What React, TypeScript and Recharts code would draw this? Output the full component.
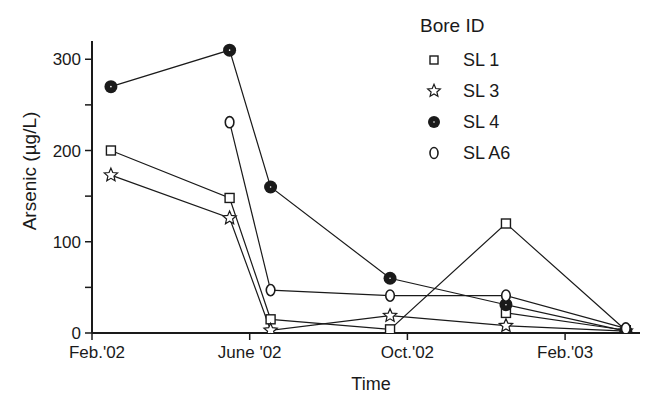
import React from 'react';
import { LineChart, Line, XAxis, YAxis } from 'recharts';

// months since 1 Feb 2002
const sampleTimes = [0.48, 3.49, 4.53, 7.56, 10.5, 13.54];
const sl1 = [200, 148, 15, 4, 120, 3];
const sl1Repeat = [null, null, null, null, 22, 3];
const sl3 = [173, 126, 3, 19, 8, 2];
const sl4 = [270, 310, 160, 60, 31, 2];
const slA6 = [null, 231, 47, 41, 41, 5];

const xTicks = [0, 4, 8, 12];
const xTickLabels = ["Feb.'02", "June '02", "Oct.'02", "Feb.'03"];
const yTicks = [0, 50, 100, 150, 200, 250, 300];

const seriesNames = ['SL 1', 'SL 3', 'SL 4', 'SL A6'];

const data = sampleTimes.map((t, i) => ({
  t,
  sl1: sl1[i],
  sl1r: sl1Repeat[i],
  sl3: sl3[i],
  sl4: sl4[i],
  slA6: slA6[i],
}));

const FONT = '"Liberation Sans", Arial, Helvetica, sans-serif';
const INK = '#1a1a1a';

const starPath = (cx: number, cy: number, ro: number, ri: number) => {
  let d = '';
  for (let k = 0; k < 10; k++) {
    const r = k % 2 === 0 ? ro : ri;
    const a = -Math.PI / 2 + (k * Math.PI) / 5;
    d += (k === 0 ? 'M' : 'L') + (cx + r * Math.cos(a)).toFixed(2) + ',' + (cy + r * Math.sin(a)).toFixed(2);
  }
  return d + 'Z';
};

const Square = ({ cx, cy, s = 9 }: any) => (
  <rect x={cx - s / 2} y={cy - s / 2} width={s} height={s} fill="#fff" stroke={INK} strokeWidth={1.4} />
);
const Star = ({ cx, cy, s = 1 }: any) => (
  <path d={starPath(cx, cy, 7 * s, 3.2 * s)} fill="#fff" stroke={INK} strokeWidth={1.2} strokeLinejoin="miter" />
);
const Filled = ({ cx, cy, r = 6.5 }: any) => (
  <g>
    <circle cx={cx} cy={cy} r={r} fill={INK} />
    <circle cx={cx} cy={cy} r={0.8} fill="#fff" />
  </g>
);
const Oval = ({ cx, cy, rx = 4.3, ry = 5.6 }: any) => (
  <ellipse cx={cx} cy={cy} rx={rx} ry={ry} fill="#fff" stroke={INK} strokeWidth={1.6} />
);

const dotFor = (kind: string) => (props: any) => {
  const { cx, cy, key, value } = props;
  if (cx == null || cy == null || value == null) return <g key={key} />;
  let el;
  if (kind === 'sl1') el = <Square cx={cx} cy={cy} />;
  else if (kind === 'sl3') el = <Star cx={cx} cy={cy} />;
  else if (kind === 'sl4') el = <Filled cx={cx} cy={cy} />;
  else el = <Oval cx={cx} cy={cy} />;
  return <g key={key}>{el}</g>;
};

const legendMarkers = [
  (x: number, y: number) => <Square cx={x} cy={y} s={8} />,
  (x: number, y: number) => <Star cx={x} cy={y} s={0.95} />,
  (x: number, y: number) => <Filled cx={x} cy={y} r={6} />,
  (x: number, y: number) => <Oval cx={x} cy={y} rx={4} ry={5.5} />,
];

const LegendBox = () => (
  <svg width={200} height={170} style={{ position: 'absolute', left: 410, top: 0, display: 'block' }}>
    <text x={10} y={25} fontFamily={FONT} fontSize={19} fill={INK} dominantBaseline="central">
      Bore ID
    </text>
    {seriesNames.map((n, i) => {
      const y = 60 + i * 31;
      return (
        <g key={n}>
          {legendMarkers[i](24, y)}
          <text x={53} y={y} fontFamily={FONT} fontSize={18} fill={INK} dominantBaseline="central">
            {n}
          </text>
        </g>
      );
    })}
  </svg>
);

const XTick = ({ x, y, payload }: any) => {
  const idx = xTicks.indexOf(payload.value);
  const shift = idx === 0 ? 5 : 0;
  return (
    <text x={x + shift} y={y + 4} dy="0.71em" textAnchor="middle" fontFamily={FONT} fontSize={17} fill={INK}>
      {xTickLabels[idx] ?? ''}
    </text>
  );
};

export default function App() {
  return (
    <div style={{ position: 'absolute', left: 0, top: 0, width: 645, height: 395, background: '#fff' }}>
      <LineChart
        width={645}
        height={395}
        data={data}
        margin={{ top: 41, right: 5, left: 0, bottom: 0 }}
      >
        <XAxis
          dataKey="t"
          type="number"
          domain={[0, 13.9]}
          ticks={xTicks}
          interval={0}
          height={62}
          tickSize={7}
          axisLine={{ stroke: INK, strokeWidth: 2 }}
          tickLine={{ stroke: INK, strokeWidth: 1.5 }}
          tick={<XTick />}
          allowDataOverflow
          label={{
            content: () => (
              <text x={371} y={384} textAnchor="middle" dominantBaseline="central" fontFamily={FONT} fontSize={18} fill={INK}>
                Time
              </text>
            ),
          }}
        />
        <YAxis
          type="number"
          domain={[0, 320]}
          ticks={yTicks}
          tickFormatter={(v: number) => (v % 100 === 0 ? String(v) : '')}
          width={92}
          tickSize={7}
          interval={0}
          axisLine={{ stroke: INK, strokeWidth: 2 }}
          tickLine={{ stroke: INK, strokeWidth: 1.5 }}
          tick={{ fill: INK, fontSize: 17, fontFamily: FONT, dx: -2 }}
          allowDataOverflow
          label={{
            content: () => (
              <text
                x={29}
                y={171}
                transform="rotate(-90, 29, 171)"
                textAnchor="middle"
                dominantBaseline="central"
                fontFamily={FONT}
                fontSize={19}
                fill={INK}
              >
                Arsenic (µg/L)
              </text>
            ),
          }}
        />
        <Line dataKey="sl1" name="SL 1" stroke={INK} strokeWidth={1.2} dot={dotFor('sl1')} isAnimationActive={false} />
        <Line dataKey="sl1r" name="SL 1 repeat" stroke={INK} strokeWidth={1.2} dot={dotFor('sl1')} isAnimationActive={false} />
        <Line dataKey="sl3" name="SL 3" stroke={INK} strokeWidth={1.2} dot={dotFor('sl3')} isAnimationActive={false} />
        <Line dataKey="sl4" name="SL 4" stroke={INK} strokeWidth={1.2} dot={dotFor('sl4')} isAnimationActive={false} />
        <Line dataKey="slA6" name="SL A6" stroke={INK} strokeWidth={1.2} dot={dotFor('slA6')} isAnimationActive={false} />
      </LineChart>
      <LegendBox />
    </div>
  );
}
